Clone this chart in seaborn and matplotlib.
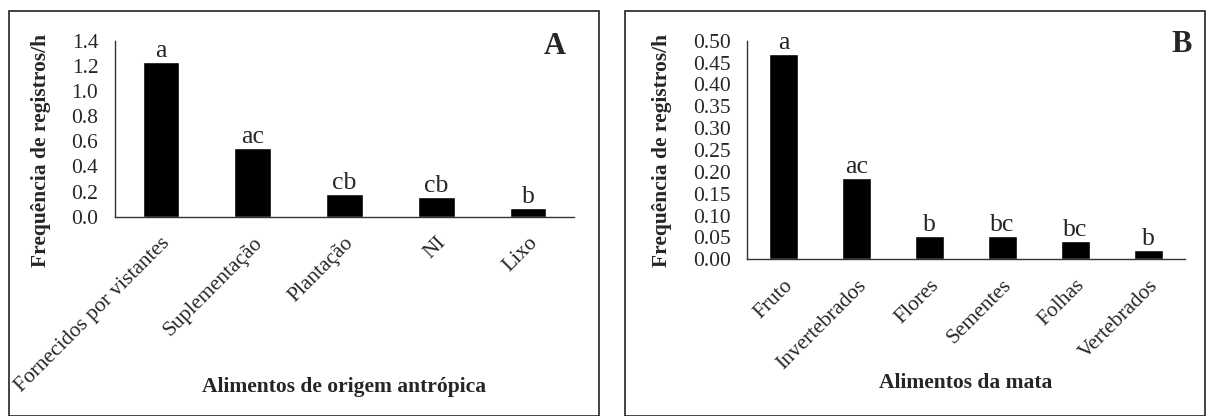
import matplotlib
matplotlib.use("Agg")
import matplotlib.pyplot as plt
from matplotlib.patches import Rectangle
import numpy as np
import pandas as pd
import seaborn as sns

sns.set_theme(style="white")
plt.rcParams["font.family"] = ["Liberation Serif", "DejaVu Serif"]

# Panel A: anthropogenic food sources
cats_a = ["Fornecidos por vistantes", "Suplementação", "Plantação", "NI", "Lixo"]
vals_a = [1.23, 0.55, 0.18, 0.155, 0.07]
letters_a = ["a", "ac", "cb", "cb", "b"]
yticks_a = [0.0, 0.2, 0.4, 0.6, 0.8, 1.0, 1.2, 1.4]

# Panel B: forest food sources
cats_b = ["Fruto", "Invertebrados", "Flores", "Sementes", "Folhas", "Vertebrados"]
vals_b = [0.47, 0.185, 0.054, 0.053, 0.041, 0.022]
letters_b = ["a", "ac", "b", "bc", "bc", "b"]
yticks_b = [0.00, 0.05, 0.10, 0.15, 0.20, 0.25, 0.30, 0.35, 0.40, 0.45, 0.50]

W, H = 1212, 416
fig = plt.figure(figsize=(W / 100, H / 100), dpi=100)
fig.patch.set_facecolor("white")


def fx(px):
    return px / W


def fy(py):
    return 1 - py / H


# panel frames
for x0, x1 in [(8.5, 598.5), (624.5, 1204.5)]:
    fig.patches.append(Rectangle((fx(x0), fy(416)), fx(x1 - x0), (416 - 10.5) / H,
                                 transform=fig.transFigure, fill=False,
                                 edgecolor="#222222", linewidth=1.2, zorder=0))

TICK_FS = 15.5
LAB_FS = 15.5


def panel(rect, cats, vals, letters, yticks, fmt, ylab, xlab, tag, tag_xy,
          ylabel_xy, xlabel_y):
    ax = fig.add_axes(rect)
    df = pd.DataFrame({"cat": cats, "val": vals})
    sns.barplot(data=df, x="cat", y="val", color="black", width=0.4,
                saturation=1, ax=ax)
    n = len(cats)
    ax.set_xlim(-0.5, n - 0.5)
    ax.set_ylim(yticks[0], yticks[-1])
    ax.set_yticks(yticks)
    ax.set_yticklabels([fmt.format(v) for v in yticks], fontsize=TICK_FS)
    ax.set_xticks(np.arange(n))
    ax.set_xticklabels(cats, rotation=45, ha="right", rotation_mode="anchor",
                       fontsize=TICK_FS)
    ax.set_xticks(np.arange(n + 1) - 0.5, minor=True)
    ax.tick_params(axis="x", which="major", length=0, pad=12)
    ax.tick_params(axis="x", which="minor", length=5, width=1, color="#333333",
                   direction="out")
    ax.tick_params(axis="y", length=4, width=1, color="#333333",
                   direction="out", pad=8)
    for s in ["top", "right"]:
        ax.spines[s].set_visible(False)
    for s in ["left", "bottom"]:
        ax.spines[s].set_color("#333333")
        ax.spines[s].set_linewidth(1)
    ax.set_ylabel(ylab, fontsize=LAB_FS, fontweight="bold")
    ax.yaxis.set_label_coords(*ylabel_xy)
    ax.set_xlabel("")
    for i, (v, t) in enumerate(zip(vals, letters)):
        ax.annotate(t, (i, v), xytext=(0, 0), textcoords="offset points",
                    ha="center", va="bottom", fontsize=18.5)
    fig.text(tag_xy[0], tag_xy[1], tag, fontsize=22, fontweight="bold",
             ha="center", va="center")
    cx = rect[0] + rect[2] / 2
    fig.text(cx, xlabel_y, xlab, fontsize=LAB_FS, fontweight="bold",
             ha="center", va="center")
    ax.set_facecolor("none")
    return ax


panel([fx(115), fy(216.7), fx(574 - 115), (216.7 - 40.7) / H],
      cats_a, vals_a, letters_a, yticks_a, "{:.1f}",
      "Frequência de registros/h", "Alimentos de origem antrópica",
      "A", (fx(555), fy(47)), (-0.139, 0.379), fy(387))

panel([fx(747.4), fy(259.3), fx(1184.7 - 747.4), (259.3 - 40.7) / H],
      cats_b, vals_b, letters_b, yticks_b, "{:.2f}",
      "Frequência de registros/h", "Alimentos da mata",
      "B", (fx(1182), fy(44)), (-0.172, 0.5), fy(383))

fig.savefig("out.png", dpi=100, facecolor="white")
